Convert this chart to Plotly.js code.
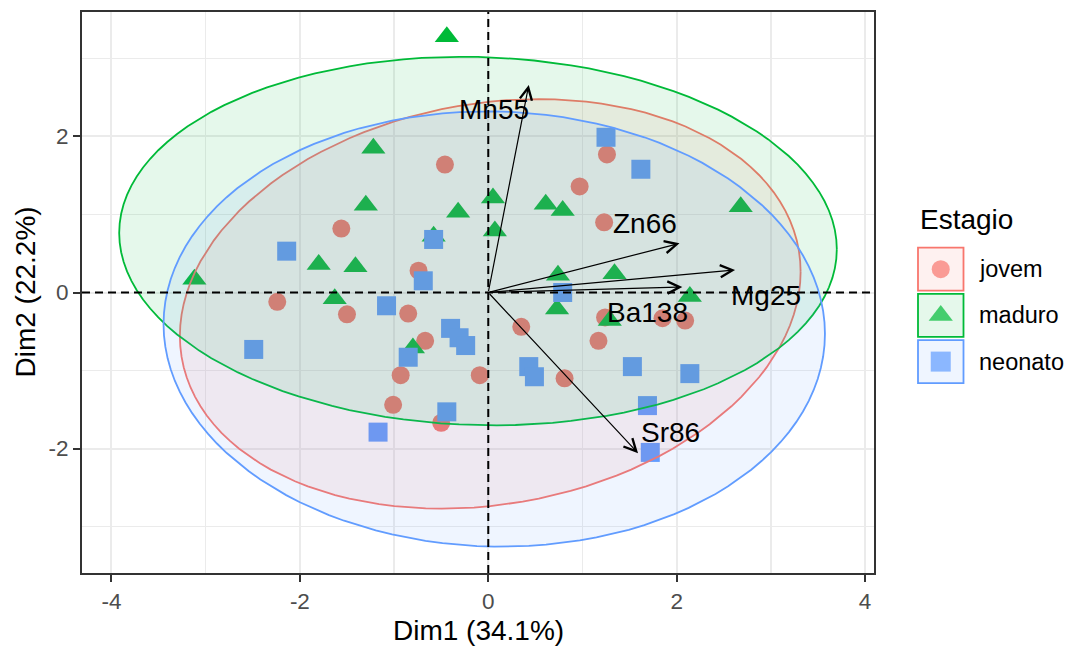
<!DOCTYPE html>
<html><head><meta charset="utf-8">
<script src="https://cdn.plot.ly/plotly-3.0.1.min.js"></script>
<style>html,body{margin:0;padding:0;background:#fff}#chart{width:1072px;height:646px}</style>
</head><body><div id="chart"></div>
<script>
// ---------------- data ----------------
const groups = ['jovem', 'maduro', 'neonato'];
const groupColors = ['#F8766D', '#00BA38', '#619CFF'];
const groupSymbols = ['circle', 'triangle-up', 'square'];

const jovemX = [-0.46, 1.26, 0.97, 1.23, -1.56, -0.74, -2.24, -1.50, -0.85, -0.67, 0.35, 1.17, 1.24, 1.85, 2.09, -0.93, -0.09, 0.81, -1.01, -0.50];
const jovemY = [1.64, 1.77, 1.36, 0.90, 0.82, 0.28, -0.12, -0.28, -0.27, -0.62, -0.44, -0.62, -0.32, -0.33, -0.36, -1.06, -1.06, -1.10, -1.44, -1.67];

const maduroX = [-0.44, -1.22, -1.30, -0.32, 0.05, 0.61, 0.79, 2.68, -0.58, 0.07, -1.80, -1.41, -3.12, -1.63, 0.74, 1.34, 2.14, 0.73, 1.29, -0.80];
const maduroY = [3.28, 1.85, 1.12, 1.03, 1.21, 1.13, 1.05, 1.10, 0.72, 0.79, 0.36, 0.33, 0.17, -0.08, 0.22, 0.24, -0.05, -0.21, -0.36, -0.71];

const neonatoX = [1.25, 1.62, -2.14, -0.58, -0.69, -1.08, -0.40, -0.31, -0.24, -0.85, 0.79, -2.49, 0.43, 0.49, 1.53, 2.14, 1.69, -0.44, -1.17, 1.72];
const neonatoY = [1.99, 1.58, 0.53, 0.68, 0.15, -0.17, -0.46, -0.58, -0.68, -0.83, 0.00, -0.73, -0.95, -1.08, -0.95, -1.04, -1.45, -1.53, -1.79, -2.05];

const varNames = ['Mn55', 'Zn66', 'Mg25', 'Ba138', 'Sr86'];
const varX = [0.43, 2.03, 2.62, 2.06, 1.59];
const varY = [2.66, 0.63, 0.29, 0.07, -2.06];
const varLabelX = [0.06, 1.66, 2.95, 1.69, 1.93];
const varLabelY = [2.34, 0.89, -0.04, -0.25, -1.79];

const xTitle = 'Dim1 (34.1%)';
const yTitle = 'Dim2 (22.2%)';
const legendTitle = 'Estagio';
const xTicks = [-4, -2, 0, 2, 4];
const yTicks = [-2, 0, 2];
const ellipseLevel = 0.95;

// ---------------- helpers ----------------
const groupX = [jovemX, maduroX, neonatoX];
const groupY = [jovemY, maduroY, neonatoY];

function rgba(hex, a) {
  const n = parseInt(hex.slice(1), 16);
  return `rgba(${(n >> 16) & 255},${(n >> 8) & 255},${n & 255},${a})`;
}
// stat_ellipse(type = "norm") equivalent
function ellipse(xs, ys, level, seg) {
  const n = xs.length;
  const mx = xs.reduce((a, b) => a + b, 0) / n;
  const my = ys.reduce((a, b) => a + b, 0) / n;
  let sxx = 0, syy = 0, sxy = 0;
  for (let i = 0; i < n; i++) {
    sxx += (xs[i] - mx) ** 2; syy += (ys[i] - my) ** 2; sxy += (xs[i] - mx) * (ys[i] - my);
  }
  sxx /= n - 1; syy /= n - 1; sxy /= n - 1;
  const d2 = n - 1;
  const fq = (d2 / 2) * (Math.pow(1 - level, -2 / d2) - 1); // qf(level, 2, d2)
  const r = Math.sqrt(2 * fq);
  const u11 = Math.sqrt(sxx), u12 = sxy / u11, u22 = Math.sqrt(syy - u12 * u12);
  const ex = [], ey = [];
  for (let k = 0; k <= seg; k++) {
    const t = 2 * Math.PI * k / seg;
    const c = Math.cos(t), s = Math.sin(t);
    ex.push(mx + r * c * u11);
    ey.push(my + r * (c * u12 + s * u22));
  }
  return [ex, ey];
}

// ---------------- geometry ----------------
const W = 1072, H = 646;
const PL = 82, PR = 874, PT = 12, PB = 573;
const font = 'Liberation Sans, Arial, sans-serif';

// ---------------- traces ----------------
const traces = [];
groups.forEach((g, i) => {
  traces.push({
    type: 'scatter', mode: 'markers', x: groupX[i], y: groupY[i], name: g,
    xaxis: 'x', yaxis: 'y', showlegend: false, hoverinfo: 'x+y+name',
    marker: { symbol: groupSymbols[i], color: groupColors[i], size: i === 1 ? 21 : (i === 2 ? 19 : 18), line: { width: 0 } }
  });
});
groups.forEach((g, i) => {
  const [ex, ey] = ellipse(groupX[i], groupY[i], ellipseLevel, 120);
  traces.push({
    type: 'scatter', mode: 'lines', x: ex, y: ey, fill: 'toself',
    fillcolor: rgba(groupColors[i], 0.1), line: { color: groupColors[i], width: 1.8 },
    xaxis: 'x', yaxis: 'y', showlegend: false, hoverinfo: 'skip'
  });
});

// legend (drawn on a pixel-coordinate overlay axis)
const legTop = 247.7, legStep = 46.2, legBoxW = 45.5, legBoxH = 43, legX0 = 918;
const legCenters = groups.map((g, i) => legTop + i * legStep + legBoxH / 2);
traces.push({
  type: 'scatter', mode: 'markers', xaxis: 'x2', yaxis: 'y2', showlegend: false, hoverinfo: 'skip',
  x: groups.map(() => legX0 + legBoxW / 2), y: legCenters,
  marker: { symbol: groupSymbols, color: groupColors, size: [18, 21, 20], line: { width: 0 } }
});

// ---------------- shapes & annotations ----------------
const shapes = [
  { type: 'line', xref: 'x', yref: 'y domain', x0: 0, x1: 0, y0: 0, y1: 1, layer: 'above',
    line: { color: '#000', width: 2, dash: '8px,5px' } },
  { type: 'line', xref: 'x domain', yref: 'y', x0: 0, x1: 1, y0: 0, y1: 0, layer: 'above',
    line: { color: '#000', width: 2, dash: '8px,5px' } }
];
groups.forEach((g, i) => {
  const y0 = legTop + i * legStep;
  shapes.push({ type: 'rect', xref: 'x2', yref: 'y2', x0: legX0, x1: legX0 + legBoxW, y0: y0, y1: y0 + legBoxH,
    fillcolor: rgba(groupColors[i], 0.1), line: { color: groupColors[i], width: 1.8 }, layer: 'below' });
});

const annotations = [];
varNames.forEach((v, i) => {
  annotations.push({ x: varX[i], y: varY[i], ax: 0, ay: 0, xref: 'x', yref: 'y', axref: 'x', ayref: 'y',
    text: '', showarrow: true, arrowhead: 5, arrowsize: 2, arrowwidth: 1.2, arrowcolor: '#000', standoff: 0 });
});
varNames.forEach((v, i) => {
  annotations.push({ x: varLabelX[i], y: varLabelY[i], xref: 'x', yref: 'y', text: v, showarrow: false,
    xanchor: 'center', yanchor: 'middle', font: { family: font, size: 28, color: '#000' } });
});
annotations.push({ x: (PL + PR) / 2 / W, y: (H - 630) / H, xref: 'paper', yref: 'paper', text: xTitle,
  showarrow: false, xanchor: 'center', yanchor: 'middle', font: { family: font, size: 28, color: '#000' } });
annotations.push({ x: 25 / W, y: (H - (PT + PB) / 2) / H, xref: 'paper', yref: 'paper', text: yTitle, textangle: -90,
  showarrow: false, xanchor: 'center', yanchor: 'middle', font: { family: font, size: 28, color: '#000' } });
annotations.push({ x: legX0, y: 219, xref: 'x2', yref: 'y2', text: legendTitle, showarrow: false,
  xanchor: 'left', yanchor: 'middle', font: { family: font, size: 28, color: '#000' } });
groups.forEach((g, i) => {
  annotations.push({ x: 977, y: legCenters[i], xref: 'x2', yref: 'y2', text: g, showarrow: false,
    xanchor: 'left', yanchor: 'middle', font: { family: font, size: 23.5, color: '#000' } });
});

// ---------------- layout ----------------
const axisCommon = {
  showline: true, linecolor: '#333333', linewidth: 2, mirror: true,
  ticks: 'outside', ticklen: 7, tickwidth: 2, tickcolor: '#333333',
  tickfont: { family: font, size: 22.5, color: '#4D4D4D' },
  showgrid: true, gridcolor: '#EBEBEB', gridwidth: 2, zeroline: false,
  minor: { dtick: 1, showgrid: true, gridcolor: '#EBEBEB', gridwidth: 1.3, ticks: '' },
  fixedrange: true
};
const layout = {
  width: W, height: H, margin: { l: 0, r: 0, t: 0, b: 0 },
  paper_bgcolor: '#fff', plot_bgcolor: 'rgba(0,0,0,0)', showlegend: false,
  xaxis: Object.assign({}, axisCommon, { domain: [PL / W, PR / W], range: [-4.313, 4.095],
    tickmode: 'array', tickvals: xTicks, ticktext: xTicks.map(String), anchor: 'y' }),
  yaxis: Object.assign({}, axisCommon, { domain: [(H - PB) / H, (H - PT) / H], range: [-3.596, 3.596],
    tickmode: 'array', tickvals: yTicks, ticktext: yTicks.map(String), anchor: 'x' }),
  xaxis2: { domain: [900 / W, 1], range: [900, 1072], visible: false, fixedrange: true, anchor: 'y2' },
  yaxis2: { domain: [0, 1], range: [646, 0], visible: false, fixedrange: true, anchor: 'x2' },
  shapes: shapes, annotations: annotations
};
Plotly.newPlot('chart', traces, layout, { displayModeBar: false, staticPlot: true });
</script>
</body></html>
